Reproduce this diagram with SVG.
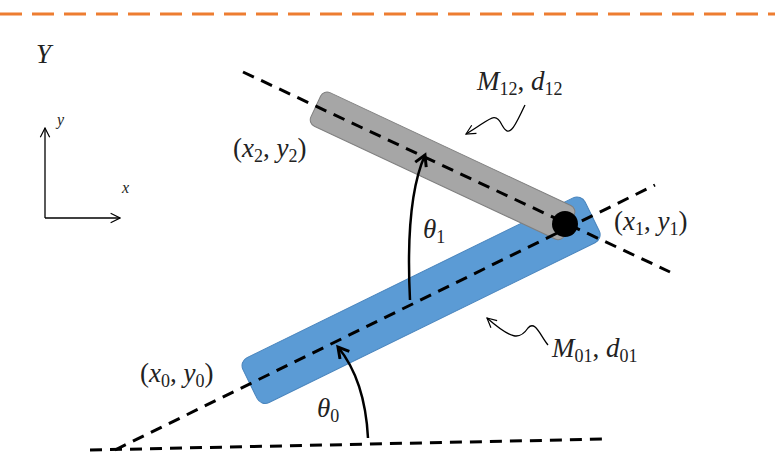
<svg xmlns="http://www.w3.org/2000/svg" width="775" height="462" viewBox="0 0 775 462">
<style>
.t{font-family:"Liberation Serif",serif;font-size:27px;fill:#222}
.i{font-style:italic}
.s{font-size:16px}
.d{stroke:#000;stroke-width:3;stroke-dasharray:12 8;fill:none}
.a{stroke:#000;stroke-width:2.5;fill:none}
.th{stroke:#000;stroke-width:1.3;fill:none}
</style>
<defs>
<marker id="ah" viewBox="0 0 10 10" refX="8" refY="5" markerWidth="6" markerHeight="6" orient="auto"><path d="M1,1 L8,5 L1,9" fill="none" stroke="#000" stroke-width="2"/></marker>
<marker id="ah2" viewBox="0 0 10 10" refX="9" refY="5" markerWidth="9" markerHeight="9" orient="auto"><path d="M1,1 L9,5 L1,9" fill="none" stroke="#000" stroke-width="1"/></marker>
</defs>
<line x1="0" y1="14" x2="775" y2="14" stroke="#ED7D31" stroke-width="3" stroke-dasharray="22 10"/>
<g id="axes">
<line x1="45" y1="218" x2="45" y2="128" class="th" marker-end="url(#ah2)"/>
<line x1="45" y1="218" x2="120" y2="218" class="th" marker-end="url(#ah2)"/>
<text x="57" y="125" class="t i s">y</text>
<text x="122" y="193" class="t i s">x</text>
<text x="36" y="63" class="t i">Y</text>
</g>
<g id="link01">
<rect x="0" y="-25" width="381" height="50" rx="9" fill="#5B9BD5" stroke="#4a85bd" transform="translate(250,384) rotate(-26.1)"/>
</g>
<g id="link12">
<rect x="0" y="-18" width="280" height="37" rx="7" fill="#A6A6A6" stroke="#7f7f7f" transform="translate(316,106) rotate(25.1)"/>
</g>
<g id="connectors">
<line x1="90" y1="450" x2="607" y2="439" class="d"/>
<line x1="115" y1="450" x2="655" y2="185" class="d"/>
<line x1="243" y1="72" x2="670" y2="272" class="d"/>
<path d="M368,438 Q365,380 338,347" class="a" marker-end="url(#ah)"/>
<path d="M410,300 Q405,200 425,155" class="a" marker-end="url(#ah)"/>
<path d="M525,105 C515,125 510,140 502,125 C495,110 490,120 466,134" class="th" marker-end="url(#ah2)"/>
<path d="M548,345 C540,335 535,320 528,328 C520,340 512,340 487,318" class="th" marker-end="url(#ah2)"/>
</g>
<circle id="joint" cx="565" cy="224" r="13" fill="#000"/>
<g id="labels">
<text x="477" y="90" class="t i">M<tspan font-size="18" dy="5" font-style="normal">12</tspan><tspan dy="-5" font-style="normal">, </tspan>d<tspan font-size="18" dy="5" font-style="normal">12</tspan></text>
<text x="233" y="157" class="t"><tspan>(</tspan><tspan class="i">x</tspan><tspan font-size="18" dy="5">2</tspan><tspan dy="-5">, </tspan><tspan class="i">y</tspan><tspan font-size="18" dy="5">2</tspan><tspan dy="-5">)</tspan></text>
<text x="614" y="230" class="t"><tspan>(</tspan><tspan class="i">x</tspan><tspan font-size="18" dy="5">1</tspan><tspan dy="-5">, </tspan><tspan class="i">y</tspan><tspan font-size="18" dy="5">1</tspan><tspan dy="-5">)</tspan></text>
<text x="140" y="382" class="t"><tspan>(</tspan><tspan class="i">x</tspan><tspan font-size="18" dy="5">0</tspan><tspan dy="-5">, </tspan><tspan class="i">y</tspan><tspan font-size="18" dy="5">0</tspan><tspan dy="-5">)</tspan></text>
<text x="552" y="357" class="t i">M<tspan font-size="18" dy="5" font-style="normal">01</tspan><tspan dy="-5" font-style="normal">, </tspan>d<tspan font-size="18" dy="5" font-style="normal">01</tspan></text>
<text x="423" y="238" class="t i">θ<tspan font-size="18" dy="5" font-style="normal">1</tspan></text>
<text x="317" y="417" class="t i">θ<tspan font-size="18" dy="5" font-style="normal">0</tspan></text>
</g>
</svg>
